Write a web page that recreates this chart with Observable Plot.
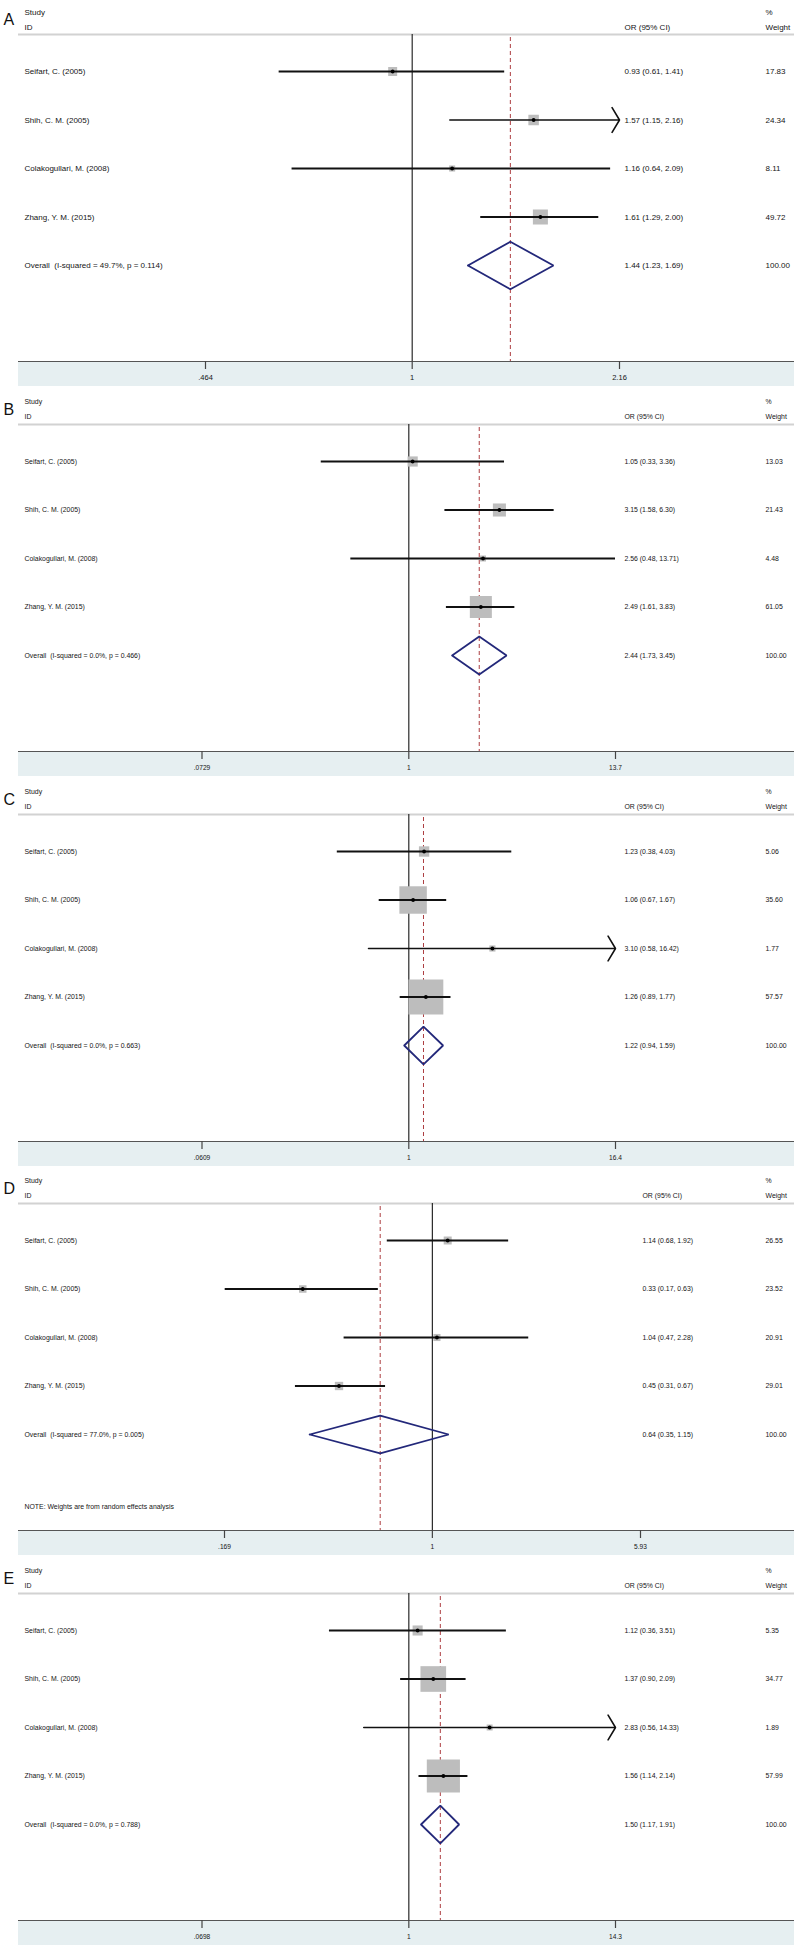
<!DOCTYPE html>
<html><head><meta charset="utf-8">
<script src="https://cdn.jsdelivr.net/npm/d3@7"></script>
<script src="https://cdn.jsdelivr.net/npm/@observablehq/plot@0.6"></script>
<style>
body{margin:0;background:#fff}
#chart svg{display:block;background:#fff}
</style></head><body><div id="chart"></div>
<script>
// ---------- data ----------
const studies = ["Seifart, C. (2005)", "Shih, C. M. (2005)", "Colakogullari, M. (2008)", "Zhang, Y. M. (2015)"];
const letters = ["A", "B", "C", "D", "E"];

const orA = [0.93, 1.57, 1.16, 1.61];
const loA = [0.61, 1.15, 0.64, 1.29];
const hiA = [1.41, 2.16, 2.09, 2.00];
const wA = [17.83, 24.34, 8.11, 49.72];
const overallA = [1.44, 1.23, 1.69];
const hetA = ["49.7%", "0.114"];
const ticksA = [0.464, 1, 2.16];
const tickLabelsA = [".464", "1", "2.16"];
const arrowA = [false, true, false, false];

const orB = [1.05, 3.15, 2.56, 2.49];
const loB = [0.33, 1.58, 0.48, 1.61];
const hiB = [3.36, 6.30, 13.71, 3.83];
const wB = [13.03, 21.43, 4.48, 61.05];
const overallB = [2.44, 1.73, 3.45];
const hetB = ["0.0%", "0.466"];
const ticksB = [0.0729, 1, 13.7];
const tickLabelsB = [".0729", "1", "13.7"];
const arrowB = [false, false, false, false];

const orC = [1.23, 1.06, 3.10, 1.26];
const loC = [0.38, 0.67, 0.58, 0.89];
const hiC = [4.03, 1.67, 16.42, 1.77];
const wC = [5.06, 35.60, 1.77, 57.57];
const overallC = [1.22, 0.94, 1.59];
const hetC = ["0.0%", "0.663"];
const ticksC = [0.0609, 1, 16.4];
const tickLabelsC = [".0609", "1", "16.4"];
const arrowC = [false, false, true, false];

const orD = [1.14, 0.33, 1.04, 0.45];
const loD = [0.68, 0.17, 0.47, 0.31];
const hiD = [1.92, 0.63, 2.28, 0.67];
const wD = [26.55, 23.52, 20.91, 29.01];
const overallD = [0.64, 0.35, 1.15];
const hetD = ["77.0%", "0.005"];
const ticksD = [0.169, 1, 5.93];
const tickLabelsD = [".169", "1", "5.93"];
const arrowD = [false, false, false, false];
const noteD = "NOTE: Weights are from random effects analysis";

const orE = [1.12, 1.37, 2.83, 1.56];
const loE = [0.36, 0.90, 0.56, 1.14];
const hiE = [3.51, 2.09, 14.33, 2.14];
const wE = [5.35, 34.77, 1.89, 57.99];
const overallE = [1.50, 1.17, 1.91];
const hetE = ["0.0%", "0.788"];
const ticksE = [0.0698, 1, 14.3];
const tickLabelsE = [".0698", "1", "14.3"];
const arrowE = [false, false, true, false];

const panels = [
  {or: orA, lo: loA, hi: hiA, w: wA, overall: overallA, het: hetA, ticks: ticksA, tickLabels: tickLabelsA, arrow: arrowA, note: null},
  {or: orB, lo: loB, hi: hiB, w: wB, overall: overallB, het: hetB, ticks: ticksB, tickLabels: tickLabelsB, arrow: arrowB, note: null},
  {or: orC, lo: loC, hi: hiC, w: wC, overall: overallC, het: hetC, ticks: ticksC, tickLabels: tickLabelsC, arrow: arrowC, note: null},
  {or: orD, lo: loD, hi: hiD, w: wD, overall: overallD, het: hetD, ticks: ticksD, tickLabels: tickLabelsD, arrow: arrowD, note: noteD},
  {or: orE, lo: loE, hi: hiE, w: wE, overall: overallE, het: hetE, ticks: ticksE, tickLabels: tickLabelsE, arrow: arrowE, note: null}
];

// ---------- layout / style (not data) ----------
const FF = "Liberation Sans, Arial, sans-serif";
const styles = [
  {H: 390, xr: [205, 619], k: 2.13, dh: 0.49, fs: 8, tfs: 7.5, orX: 624},
  {H: 390, xr: [201.5, 615], k: 2.82, dh: 0.39, fs: 6.9, tfs: 6.6, orX: 624},
  {H: 389, xr: [201.5, 615], k: 4.6, dh: 0.39, fs: 6.9, tfs: 6.6, orX: 624},
  {H: 390, xr: [224, 640], k: 1.55, dh: 0.39, fs: 6.9, tfs: 6.6, orX: 642},
  {H: 388, xr: [201.5, 615], k: 4.35, dh: 0.39, fs: 6.9, tfs: 6.6, orX: 624}
];
const ROW0 = 71, ROWSTEP = 48.5, SEP = 34, AXIS = 361, BAND = 386, LEFT = 18, W = 794;
const yv = px => (px - ROW0) / ROWSTEP;   // layout pixel -> row units
const textCol = "#151515";

function makePanel(p, s, letter) {
  const rows = studies.map((name, i) => ({
    i, name, or: p.or[i], lo: p.lo[i], hi: p.hi[i], w: p.w[i], arrow: p.arrow[i],
    hiClip: Math.min(p.hi[i], p.ticks[2]),
    ci: `${p.or[i].toFixed(2)} (${p.lo[i].toFixed(2)}, ${p.hi[i].toFixed(2)})`,
    wt: p.w[i].toFixed(2)
  }));
  const ov = {i: 4, or: p.overall[0], lo: p.overall[1], hi: p.overall[2]};
  const ovRow = {
    i: 4,
    name: `Overall\u00a0\u00a0(I-squared = ${p.het[0]}, p = ${p.het[1]})`,
    ci: `${ov.or.toFixed(2)} (${ov.lo.toFixed(2)}, ${ov.hi.toFixed(2)})`,
    wt: "100.00"
  };
  const textRows = [...rows, ovRow];
  const diamond = [
    {x: ov.lo, y: 4}, {x: ov.or, y: 4 - s.dh}, {x: ov.hi, y: 4}, {x: ov.or, y: 4 + s.dh}, {x: ov.lo, y: 4}
  ];
  const tickRows = p.ticks.map((v, j) => ({v, label: p.tickLabels[j]}));
  const tfont = {fontSize: s.fs, fontFamily: FF, fill: textCol, textAnchor: "start"};
  const rmax = 10 * s.k / Math.sqrt(Math.PI);

  const marks = [
    // shaded band below the axis
    Plot.rect([0], {y1: yv(AXIS), y2: yv(BAND), fill: "#e6eff1"}),
    // header separator
    Plot.ruleY([yv(SEP)], {stroke: "#d2d2d2", strokeWidth: 2}),
    // null line
    Plot.ruleX([1], {y1: yv(SEP), y2: yv(AXIS), stroke: "#2a2a2a", strokeWidth: 1.2}),
    // overall effect dashed line
    Plot.ruleX([ov.or], {y1: yv(SEP + 3), y2: yv(AXIS), stroke: "#ad3d40", strokeWidth: 1, strokeDasharray: "4,3"}),
    // weight boxes
    Plot.dot(rows, {x: "or", y: "i", r: "w", symbol: "square", fill: "#bdbdbd", stroke: "none"}),
    // CI lines
    Plot.ruleY(rows.filter(d => !d.arrow), {y: "i", x1: "lo", x2: "hiClip", stroke: "#111", strokeWidth: 1.8}),
    Plot.arrow(rows.filter(d => d.arrow), {x1: "lo", x2: "hiClip", y1: "i", y2: "i", stroke: "#111", strokeWidth: 1.6, headLength: 13.5, headAngle: 118}),
    // point estimates
    Plot.dot(rows, {x: "or", y: "i", r: 1.9, fill: "#000", stroke: "none"}),
    // overall diamond
    Plot.line(diamond, {x: "x", y: "y", stroke: "#23287a", strokeWidth: 1.8, strokeLinejoin: "miter"}),
    // text columns
    Plot.text(textRows, {y: "i", text: "name", frameAnchor: "left", dx: 24 - LEFT, ...tfont}),
    Plot.text(textRows, {y: "i", text: "ci", frameAnchor: "left", dx: s.orX - LEFT, ...tfont}),
    Plot.text(textRows, {y: "i", text: "wt", frameAnchor: "left", dx: 765 - LEFT, ...tfont}),
    // headers
    Plot.text(["Study"], {frameAnchor: "top-left", dx: 24 - LEFT, dy: 9 - SEP, ...tfont}),
    Plot.text(["ID"], {frameAnchor: "top-left", dx: 24 - LEFT, dy: 24 - SEP, ...tfont}),
    Plot.text(["OR (95% CI)"], {frameAnchor: "top-left", dx: s.orX - LEFT, dy: 24 - SEP, ...tfont}),
    Plot.text(["%"], {frameAnchor: "top-left", dx: 765 - LEFT, dy: 9 - SEP, ...tfont}),
    Plot.text(["Weight"], {frameAnchor: "top-left", dx: 765 - LEFT, dy: 24 - SEP, ...tfont}),
    Plot.text([letter], {frameAnchor: "top-left", dx: 3 - LEFT, dy: 13 - SEP, fontSize: 16, fontFamily: FF, fill: "#111", textAnchor: "start"}),
    // axis: line, ticks, labels
    Plot.ruleY([yv(AXIS)], {stroke: "#555", strokeWidth: 1.2}),
    Plot.ruleX(tickRows, {x: "v", y1: yv(AXIS), y2: yv(AXIS + 8), stroke: "#444", strokeWidth: 1.2}),
    Plot.text(tickRows, {x: "v", y: yv(377), text: "label", fontSize: s.tfs, fontFamily: FF, fill: textCol, textAnchor: "middle"})
  ];
  if (p.note) {
    marks.push(Plot.text([p.note], {y: yv(337), frameAnchor: "left", dx: 24 - LEFT, ...tfont}));
  }

  return Plot.plot({
    width: W,
    height: s.H,
    marginLeft: LEFT,
    marginRight: 0,
    marginTop: SEP,
    marginBottom: s.H - AXIS,
    x: {type: "log", domain: [p.ticks[0], p.ticks[2]], range: s.xr, axis: null},
    y: {type: "linear", domain: [0, 4], range: [ROW0, ROW0 + 4 * ROWSTEP], axis: null},
    r: {type: "sqrt", domain: [0, 100], range: [0, rmax]},
    style: {background: "#fff", overflow: "visible"},
    marks
  });
}

const root = document.getElementById("chart");
panels.forEach((p, j) => root.appendChild(makePanel(p, styles[j], letters[j])));
</script>
</body></html>
